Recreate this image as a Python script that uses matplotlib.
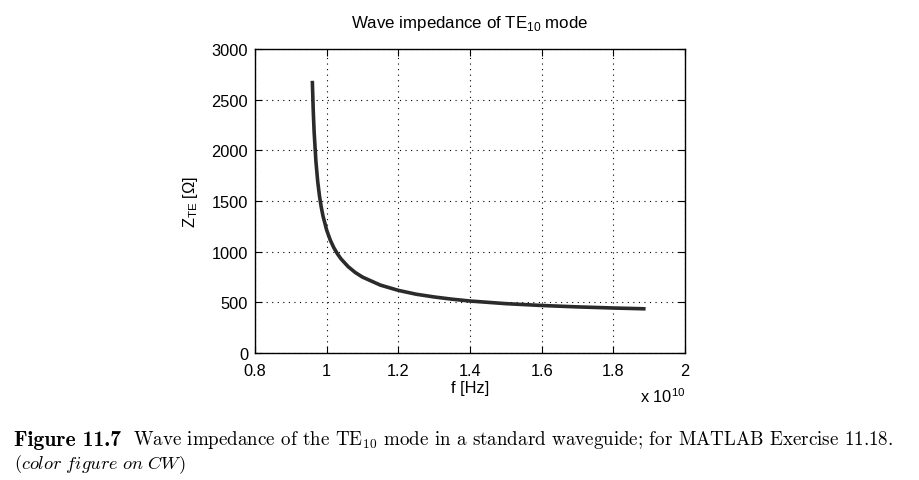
import matplotlib.pyplot as plt
import matplotlib.ticker as mticker

# frequencia (em unidades de 1e10 Hz) e impedancia
f_ghz10 = [0.960, 0.9625, 0.965, 0.970, 0.975, 0.980, 0.985, 0.990, 1.00, 1.01,
           1.02, 1.03, 1.04, 1.06, 1.08, 1.10, 1.15, 1.20, 1.25, 1.30,
           1.35, 1.40, 1.50, 1.60, 1.70, 1.80, 1.89]
z_te = [2686, 2395, 2183, 1890, 1692, 1548, 1437, 1348, 1213, 1115,
        1039, 979, 929, 852, 794, 749, 670, 618, 580, 553,
        531, 513, 487, 469, 455, 444, 436]

x_ticks = [0.8, 1.0, 1.2, 1.4, 1.6, 1.8, 2.0]
y_ticks = [0, 500, 1000, 1500, 2000, 2500, 3000]

plt.rcParams['font.family'] = ['Liberation Sans', 'DejaVu Sans']
plt.rcParams['mathtext.fontset'] = 'custom'
plt.rcParams['mathtext.rm'] = 'Liberation Sans'

fig = plt.figure(figsize=(9.2, 4.81), dpi=100)
ax = fig.add_axes([255 / 920, 1 - 354 / 481, 430 / 920, 304 / 481])

f_hz = [v * 1e10 for v in f_ghz10]
ax.plot(f_hz, z_te, color='#2b2b2b', linewidth=2.6, solid_capstyle='butt')

ax.set_xlim(0.8e10, 2.0e10)
ax.set_ylim(0, 3000)
ax.set_xticks([v * 1e10 for v in x_ticks])
ax.set_yticks(y_ticks)
ax.xaxis.set_major_formatter(mticker.FuncFormatter(lambda v, p: f"{v / 1e10:g}"))
ax.tick_params(direction='in', length=5, width=0.8, top=True, right=True,
               labelsize=11.8, colors='black')
ax.tick_params(axis='x', pad=7)
ax.tick_params(axis='y', pad=5)
ax.grid(True, linestyle=(0, (1, 4)), color='black', linewidth=0.8)
for s in ax.spines.values():
    s.set_linewidth(1.0)

ax.set_title(r"Wave impedance of TE$_{10}$ mode", fontsize=12.2, pad=16)
ax.set_xlabel("f [Hz]", fontsize=11.8, labelpad=2)
ax.set_ylabel(r"Z$_{\mathrm{TE}}$ [Ω]", fontsize=11.8, labelpad=8)
ax.text(1.0, -0.11, r"x 10$^{10}$", transform=ax.transAxes, ha='right', va='top',
        fontsize=11.8)

# legenda da figura (estilo livro)
fig.text(14 / 920, 1 - 440 / 481, "Figure 11.7", family='cmb10', fontsize=15.5,
         va='center', ha='left')
fig.text(133 / 920, 1 - 440 / 481,
         r"Wave impedance of the TE$_{10}$ mode in a standard waveguide; for MATLAB Exercise 11.18.",
         family='cmr10', fontsize=13.7, va='center', ha='left',
         math_fontfamily='cm')
fig.text(14 / 920, 1 - 465 / 481, r"$\mathit{(color\ figure\ on\ CW)}$",
         fontsize=13.2, va='center', ha='left', math_fontfamily='cm')

fig.savefig("out.png", dpi=100, facecolor='white')
